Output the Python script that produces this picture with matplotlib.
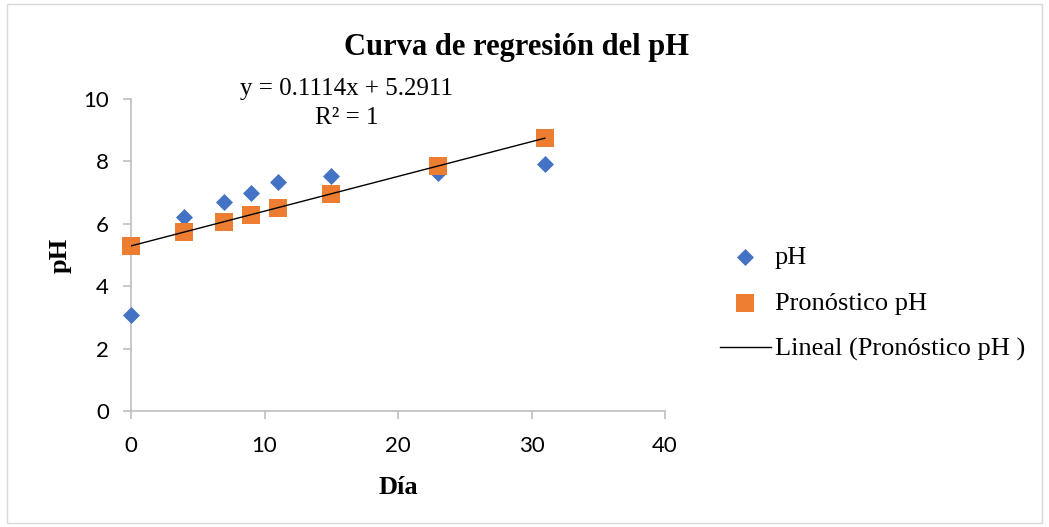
import matplotlib
matplotlib.use("Agg")
import matplotlib.pyplot as plt
import numpy as np
from matplotlib.patches import Rectangle

dias = [0, 4, 7, 9, 11, 15, 23, 31]
ph = [3.07, 6.21, 6.71, 6.99, 7.33, 7.52, 7.62, 7.92]
slope = 0.1114
intercept = 5.2911
pronostico = [5.29, 5.74, 6.07, 6.29, 6.52, 6.96, 7.85, 8.74]
xticks = [0, 10, 20, 30, 40]
yticks = [0, 2, 4, 6, 8, 10]

serif = ["Liberation Serif", "DejaVu Serif"]
sans = ["Lato", "DejaVu Sans"]

fig = plt.figure(figsize=(10.49, 5.27), dpi=100)
fig.patches.append(Rectangle((0.007, 0.007), 0.986, 0.986, transform=fig.transFigure,
                             fill=False, edgecolor="#d9d9d9", linewidth=1))
ax = fig.add_axes([131/1049, 1-411/527, (665-131)/1049, (411-99)/527])

ax.scatter(dias, ph, marker="D", s=75, color="#4472C4", zorder=3, label="pH", linewidths=0)
ax.scatter(dias, pronostico, marker="s", s=150, color="#ED7D31", zorder=3,
           label="Pronóstico pH", linewidths=0)
xs = np.array([min(dias), max(dias)])
ax.plot(xs, slope*xs + intercept, color="black", linewidth=1, zorder=4,
        label="Lineal (Pronóstico pH )")

ax.set_xlim(0, 40)
ax.set_ylim(0, 10)
ax.set_xticks(xticks)
ax.set_yticks(yticks)
for s in ["top", "right"]:
    ax.spines[s].set_visible(False)
for s in ["left", "bottom"]:
    ax.spines[s].set_color("#bfbfbf")
    ax.spines[s].set_linewidth(1.2)
ax.tick_params(axis="both", direction="out", length=6, color="#bfbfbf", width=1.2,
               labelsize=16)
ax.tick_params(axis="x", pad=12)
ax.tick_params(axis="y", pad=10)
for lab in ax.get_xticklabels() + ax.get_yticklabels():
    lab.set_family(sans)
for c in ax.collections:
    c.set_clip_on(False)

fig.text(516/1049, 1-47/527, "Curva de regresión del pH", ha="center", va="center",
         family=serif, fontweight="bold", fontsize=22)
fig.text(347/1049, 1-89/527, "y = 0.1114x + 5.2911", ha="center", va="center",
         family=serif, fontsize=18)
fig.text(347/1049, 1-118/527, "R² = 1", ha="center", va="center",
         family=serif, fontsize=18)
fig.text(60/1049, 1-255/527, "pH", ha="center", va="center", rotation=90,
         family=serif, fontweight="bold", fontsize=19)
fig.text(398/1049, 1-488/527, "Día", ha="center", va="center",
         family=serif, fontweight="bold", fontsize=19)

leg = ax.legend(loc="upper left", bbox_to_anchor=(709/1049, 1-235/527),
                bbox_transform=fig.transFigure, frameon=False,
                prop={"family": serif, "size": 19}, labelspacing=0.85,
                handlelength=1.95, handletextpad=0.15, borderaxespad=0)

fig.savefig("out.png", dpi=100)
